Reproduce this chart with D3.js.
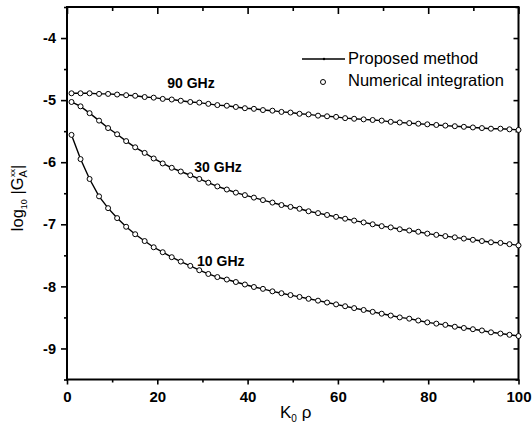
<!DOCTYPE html>
<html>
<head>
<meta charset="utf-8">
<script src="https://cdn.jsdelivr.net/npm/d3@7"></script>
<style>
	body { margin: 0; background: #fff; }
	svg { font-family: Arial, "Liberation Sans", sans-serif; }
	.domain { display: none; }
</style>
</head>
<body>
<svg id="chart" width="532" height="427"></svg>
<script>
// K0 rho sample points (shared by both series)
var kRho = [1, 3, 5, 7.1, 9.1, 11.1, 13.1, 15.1, 17.2, 19.2,
	21.2, 23.2, 25.2, 27.3, 29.3, 31.3, 33.3, 35.4, 37.4, 39.4,
	41.4, 43.4, 45.5, 47.5, 49.5, 51.5, 53.5, 55.6, 57.6, 59.6,
	61.6, 63.6, 65.7, 67.7, 69.7, 71.7, 73.7, 75.8, 77.8, 79.8,
	81.8, 83.8, 85.9, 87.9, 89.9, 91.9, 93.9, 96, 98, 100];

// log10 |GA xx|
var ga90 = [-4.89, -4.89, -4.89, -4.90, -4.90, -4.91, -4.92, -4.93, -4.95, -4.96,
	-4.98, -4.99, -5.01, -5.03, -5.04, -5.06, -5.08, -5.09, -5.11, -5.13,
	-5.14, -5.16, -5.17, -5.19, -5.20, -5.22, -5.23, -5.25, -5.26, -5.27,
	-5.29, -5.30, -5.31, -5.32, -5.33, -5.35, -5.36, -5.37, -5.38, -5.39,
	-5.40, -5.41, -5.42, -5.43, -5.44, -5.45, -5.46, -5.46, -5.47, -5.48];
var ga30 = [-5.03, -5.10, -5.21, -5.33, -5.45, -5.55, -5.66, -5.76, -5.85, -5.94,
	-6.02, -6.09, -6.15, -6.21, -6.27, -6.33, -6.39, -6.44, -6.49, -6.53,
	-6.57, -6.61, -6.65, -6.69, -6.72, -6.75, -6.79, -6.82, -6.85, -6.88,
	-6.91, -6.94, -6.97, -7.00, -7.03, -7.05, -7.08, -7.10, -7.12, -7.15,
	-7.17, -7.19, -7.21, -7.23, -7.25, -7.27, -7.29, -7.30, -7.32, -7.34];
var ga10 = [-5.56, -5.95, -6.27, -6.55, -6.74, -6.90, -7.04, -7.16, -7.27, -7.37,
	-7.45, -7.53, -7.60, -7.67, -7.74, -7.80, -7.85, -7.89, -7.93, -7.97,
	-8.01, -8.04, -8.08, -8.11, -8.14, -8.17, -8.20, -8.23, -8.26, -8.29,
	-8.32, -8.35, -8.38, -8.41, -8.44, -8.47, -8.50, -8.52, -8.55, -8.58,
	-8.60, -8.62, -8.65, -8.67, -8.69, -8.71, -8.74, -8.76, -8.78, -8.80];

var curveLabels = ["90 GHz", "30 GHz", "10 GHz"];
var legendLabels = ["Proposed method", "Numerical integration"];
var xTicks = [0, 20, 40, 60, 80, 100];
var xMinor = [10, 30, 50, 70, 90];
var yTicks = [-9, -8, -7, -6, -5, -4];
var yMinor = [-9.5, -8.5, -7.5, -6.5, -5.5, -4.5, -3.5];

var GainChart = (function() {
	"use strict";

	var plot = { left: 67, right: 518.5, top: 7, bottom: 379.5 },
		svg = d3.select("#chart"),
		xScale = d3.scaleLinear().domain([0, 100]).range([plot.left, plot.right]),
		yScale = d3.scaleLinear().domain([-9.5, -3.5]).range([plot.bottom, plot.top]);

	function drawAxes() {
		var fmt = function(d) { return String(d); };

		// bottom / left: outward ticks with labels
		svg.append("g")
			.attr("transform", "translate(0," + plot.bottom + ")")
			.call(d3.axisBottom(xScale).tickValues(xTicks).tickSize(5).tickPadding(7).tickFormat(fmt))
			.call(styleAxis, 15);
		svg.append("g")
			.attr("transform", "translate(0," + plot.bottom + ")")
			.call(d3.axisBottom(xScale).tickValues(xMinor).tickSize(3).tickFormat(""))
			.call(styleAxis);
		svg.append("g")
			.attr("transform", "translate(" + plot.left + ",0)")
			.call(d3.axisLeft(yScale).tickValues(yTicks).tickSize(6).tickPadding(5).tickFormat(fmt))
			.call(styleAxis, 14.5);
		svg.append("g")
			.attr("transform", "translate(" + plot.left + ",0)")
			.call(d3.axisLeft(yScale).tickValues(yMinor).tickSize(3).tickFormat(""))
			.call(styleAxis);

		// top / right: inward ticks, no labels
		svg.append("g")
			.attr("transform", "translate(0," + plot.top + ")")
			.call(d3.axisBottom(xScale).tickValues(xTicks).tickSize(7).tickFormat(""))
			.call(styleAxis);
		svg.append("g")
			.attr("transform", "translate(0," + plot.top + ")")
			.call(d3.axisBottom(xScale).tickValues(xMinor).tickSize(4).tickFormat(""))
			.call(styleAxis);
		svg.append("g")
			.attr("transform", "translate(" + plot.right + ",0)")
			.call(d3.axisLeft(yScale).tickValues(yTicks).tickSize(5).tickFormat(""))
			.call(styleAxis);
		svg.append("g")
			.attr("transform", "translate(" + plot.right + ",0)")
			.call(d3.axisLeft(yScale).tickValues(yMinor).tickSize(3).tickFormat(""))
			.call(styleAxis);

		svg.append("rect")
			.attr("x", plot.left)
			.attr("y", plot.top)
			.attr("width", plot.right - plot.left)
			.attr("height", plot.bottom - plot.top)
			.attr("fill", "none")
			.attr("stroke", "#000")
			.attr("stroke-width", 2);
	}

	function styleAxis(g, fontSize) {
		g.selectAll(".tick line").attr("stroke", "#000").attr("stroke-width", 1.6);
		g.selectAll(".tick text")
			.attr("fill", "#000")
			.style("font-size", (fontSize || 14) + "px")
			.style("font-weight", "bold");
	}

	function drawCurve(values) {
		var pts = kRho.map(function(k, i) { return [k, values[i]]; }),
			line = d3.line()
				.x(function(d) { return xScale(d[0]); })
				.y(function(d) { return yScale(d[1]); });

		svg.append("path")
			.datum(pts)
			.attr("d", line)
			.attr("fill", "none")
			.attr("stroke", "#000")
			.attr("stroke-width", 1.4);

		svg.append("g")
			.selectAll("circle")
			.data(pts)
			.enter().append("circle")
				.attr("cx", function(d) { return xScale(d[0]); })
				.attr("cy", function(d) { return yScale(d[1]); })
				.attr("r", 2.5)
				.attr("fill", "#fff")
				.attr("stroke", "#000")
				.attr("stroke-width", 1);
	}

	function drawLabels() {
		var spots = [[22.2, -4.80], [28.2, -6.155], [28.8, -7.675]];

		svg.selectAll("text.curveLabel")
			.data(curveLabels)
			.enter().append("text")
				.attr("class", "curveLabel")
				.attr("x", function(d, i) { return xScale(spots[i][0]); })
				.attr("y", function(d, i) { return yScale(spots[i][1]); })
				.style("font-size", "14px")
				.style("font-weight", "bold")
				.text(function(d) { return d; });

		// legend
		svg.append("line")
			.attr("x1", 302).attr("x2", 345)
			.attr("y1", 59).attr("y2", 59)
			.attr("stroke", "#000")
			.attr("stroke-width", 1.4);
		svg.append("circle")
			.attr("cx", 324).attr("cy", 59).attr("r", 1.2)
			.attr("fill", "#000");
		svg.append("circle")
			.attr("cx", 323).attr("cy", 82).attr("r", 2.5)
			.attr("fill", "#fff")
			.attr("stroke", "#000")
			.attr("stroke-width", 1);
		svg.selectAll("text.legend")
			.data(legendLabels)
			.enter().append("text")
				.attr("class", "legend")
				.attr("x", 348)
				.attr("y", function(d, i) { return 64 + i * 22; })
				.style("font-size", "16.5px")
				.text(function(d) { return d; });

		// axis titles
		var xt = svg.append("text")
			.attr("x", 280)
			.attr("y", 418)
			.style("font-size", "17px");
		xt.append("tspan").text("K");
		xt.append("tspan").attr("dy", 4).style("font-size", "10px").text("0");
		xt.append("tspan").attr("dy", -4).text(" \u03c1");

		var yt = svg.append("text")
			.attr("transform", "translate(23,198) rotate(-90)")
			.attr("text-anchor", "middle")
			.style("font-size", "16.5px");
		yt.append("tspan").text("log");
		yt.append("tspan").attr("dy", 4).style("font-size", "9px").text("10");
		yt.append("tspan").attr("dy", -4).text(" |G");
		yt.append("tspan").attr("dy", 4).style("font-size", "11px").text("A");
		yt.append("tspan").attr("dx", -7).attr("dy", -12).style("font-size", "8px").text("xx");
		yt.append("tspan").attr("dy", 8).text("|");
	}

	function create() {
		drawAxes();
		[ga90, ga30, ga10].forEach(drawCurve);
		drawLabels();
	}

	return { create: create };
})();

GainChart.create();
</script>
</body>
</html>
